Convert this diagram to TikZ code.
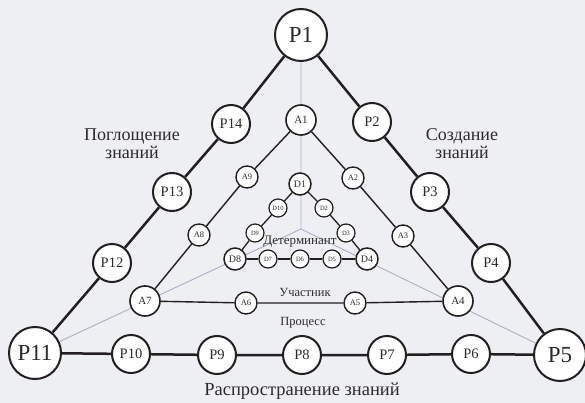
\documentclass[tikz,border=0pt]{standalone}
\usepackage{fontspec}
\setmainfont{Liberation Serif}
\usetikzlibrary{backgrounds}
\definecolor{paperbg}{RGB}{238,239,243}
\definecolor{axisgray}{RGB}{172,174,198}
\definecolor{inkline}{RGB}{35,31,32}
\definecolor{inktext}{RGB}{45,42,42}

\tikzset{
  knot/.style={circle,draw=inkline,fill=white,inner sep=0pt,text=inktext},
  pbig/.style={knot,line width=2pt,minimum size=52pt,font=\fontsize{23}{23}\selectfont},
  pnode/.style={knot,line width=2pt,minimum size=38pt,font=\fontsize{14.5}{14.5}\selectfont},
  acorner/.style={knot,line width=1.6pt,minimum size=30pt,font=\fontsize{11}{11}\selectfont},
  anode/.style={knot,line width=1.4pt,minimum size=22pt,font=\fontsize{8.5}{8.5}\selectfont},
  dcorner/.style={knot,line width=1.5pt,minimum size=22pt,font=\fontsize{10}{10}\selectfont},
  dnode/.style={knot,line width=1.2pt,minimum size=18pt,font=\fontsize{6.5}{6.5}\selectfont},
  outerline/.style={draw=inkline,line width=2.5pt},
  midline/.style={draw=inkline,line width=1.4pt},
  dside/.style={draw=inkline,line width=1.3pt},
  dbase/.style={draw=inkline,line width=2.2pt},
  axisline/.style={draw=axisgray,line width=0.9pt},
  caption/.style={text=inktext,align=center}
}

\begin{document}
\begin{tikzpicture}[x=1pt,y=-1pt]
\useasboundingbox (0,0) rectangle (585,403);
\begin{pgfonlayer}{background}
  \fill[paperbg] (0,0) rectangle (585,403);
\end{pgfonlayer}

% outer ring: P
\node[pbig] (P1) at (301,35) {P1};
\node[pbig] (P11) at (35,353) {P11};
\node[pbig] (P5) at (560,355) {P5};
\node[pnode] (P14) at (231,124) {P14};
\node[pnode] (P13) at (172,192) {P13};
\node[pnode] (P12) at (112,263) {P12};
\node[pnode] (P2) at (372,122) {P2};
\node[pnode] (P3) at (430,192) {P3};
\node[pnode] (P4) at (491,263) {P4};
\node[pnode] (P10) at (131,354) {P10};
\node[pnode] (P9) at (217,355) {P9};
\node[pnode] (P8) at (302,355) {P8};
\node[pnode] (P7) at (387,355) {P7};
\node[pnode] (P6) at (471,354) {P6};

% middle ring: A
\node[acorner] (A1) at (301,120) {A1};
\node[acorner] (A7) at (145,301) {A7};
\node[acorner] (A4) at (458,301) {A4};
\node[anode] (A9) at (247,177) {A9};
\node[anode] (A8) at (199,235) {A8};
\node[anode] (A2) at (353,178) {A2};
\node[anode] (A3) at (403,236) {A3};
\node[anode] (A6) at (246,303) {A6};
\node[anode] (A5) at (355,303) {A5};

% inner ring: D
\node[dcorner] (D1) at (300,184) {D1};
\node[dcorner] (D8) at (235,259) {D8};
\node[dcorner] (D4) at (367,259) {D4};
\node[dnode] (D10) at (278,208) {D10};
\node[dnode] (D9) at (255,233) {D9};
\node[dnode] (D2) at (324,208) {D2};
\node[dnode] (D3) at (346,233) {D3};
\node[dnode] (D7) at (268,259) {D7};
\node[dnode] (D6) at (300,259) {D6};
\node[dnode] (D5) at (332,259) {D5};

\coordinate (ctr) at (301,229);

% labels
\node[caption,font=\fontsize{18}{18}\selectfont] (absorb) at (132,144) {Поглощение\\знаний};
\node[caption,font=\fontsize{18}{18}\selectfont] (create) at (462,144) {Создание\\знаний};
\node[caption,font=\fontsize{18.5}{18.5}\selectfont] (spread) at (302,391) {Распространение знаний};
\node[caption,font=\fontsize{13}{13}\selectfont] (determ) at (300,242) {Детерминант};
\node[caption,font=\fontsize{12.5}{12.5}\selectfont] (actor) at (305,292) {Участник};
\node[caption,font=\fontsize{12.5}{12.5}\selectfont] (process) at (303,323) {Процесс};

\begin{pgfonlayer}{background}
  % grey axes
  \draw[axisline] (P1) -- (ctr) -- (P11);
  \draw[axisline] (ctr) -- (P5);
  % P triangle
  \draw[outerline] (P1) -- (P14) -- (P13) -- (P12) -- (P11);
  \draw[outerline] (P1) -- (P2) -- (P3) -- (P4) -- (P5);
  \draw[outerline] (P11) -- (P10) -- (P9) -- (P8) -- (P7) -- (P6) -- (P5);
  % A triangle
  \draw[midline] (A1) -- (A9) -- (A8) -- (A7) -- (A6) -- (A5) -- (A4) -- (A3) -- (A2) -- (A1);
  % D triangle
  \draw[dside] (D1) -- (D10) -- (D9) -- (D8);
  \draw[dside] (D1) -- (D2) -- (D3) -- (D4);
  \draw[dbase] (D8) -- (D7) -- (D6) -- (D5) -- (D4);
\end{pgfonlayer}
\end{tikzpicture}
\end{document}
